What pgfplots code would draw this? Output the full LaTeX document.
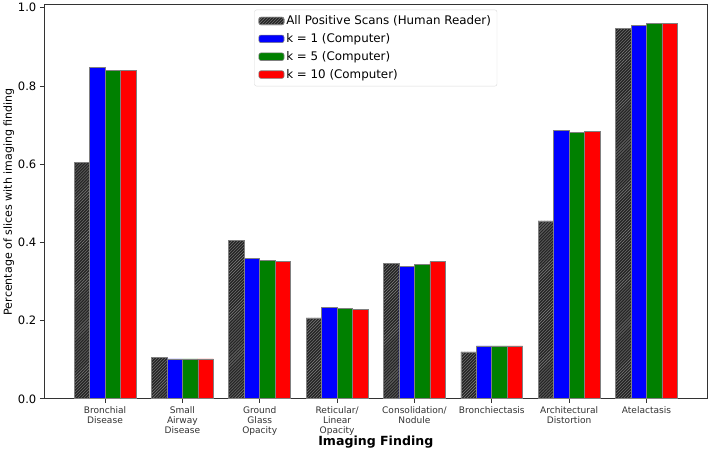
\documentclass[border=0pt]{standalone}
\usepackage{pgfplots}
\pgfplotsset{compat=1.18}
\usepackage{fontspec}
\setmainfont{DejaVu Sans}
\usetikzlibrary{patterns}
\definecolor{mplgreen}{RGB}{0,128,0}
\begin{document}
\begin{tikzpicture}[x=1pt,y=1pt]
\begin{axis}[
  scale only axis,
  width=660pt, height=392pt,
  xmin=-0.79, xmax=7.79,
  ymin=0, ymax=1.008,
  ybar,
  bar width=0.2,
  xtick={0,1,2,3,4,5,6,7},
  xticklabels={{Bronchial\\Disease},{Small\\Airway\\Disease},{Ground\\Glass\\Opacity},{Reticular/\\Linear\\Opacity},{Consolidation/\\Nodule},{Bronchiectasis},{Architectural\\Distortion},{Atelactasis}},
  xticklabel style={align=center, font=\fontsize{9}{10}\selectfont, color=black!80},
  ytick={0,0.2,0.4,0.6,0.8,1.0},
  yticklabel style={font=\fontsize{11.5}{12}\selectfont, /pgf/number format/fixed, /pgf/number format/precision=1, /pgf/number format/fixed zerofill},
  /pgf/number format/assume math mode=true,
  tick align=outside,
  major tick length=4pt,
  xtick pos=bottom, ytick pos=left,
  axis line style={black!80, line width=0.8pt},
  tick style={black!80, line width=0.8pt},
  xlabel={\textbf{Imaging Finding}},
  xlabel style={font=\fontsize{12.5}{12.5}\selectfont, yshift=6pt},
  ylabel={Percentage of slices with imaging finding},
  ylabel style={font=\fontsize{11}{11}\selectfont, yshift=-3pt},
  legend style={at={(0.5,0.987)}, anchor=north, draw=black!15, rounded corners=2pt,
    font=\fontsize{11.8}{13}\selectfont, row sep=3.3pt, inner xsep=4pt, inner ysep=4pt,
    /tikz/every even column/.append style={column sep=4pt}},
  legend cell align=left,
  legend image code/.code={\draw[#1] (0pt,-3.5pt) rectangle (25pt,4pt);},
  every axis plot/.append style={draw=gray, line width=0.6pt},
]
\addplot[fill=black!85, bar shift=-0.3, postaction={pattern=north east lines, pattern color=black!50}] coordinates {
(0,0.605) (1,0.105) (2,0.405) (3,0.207) (4,0.347) (5,0.120) (6,0.455) (7,0.947)};
\addlegendentry{All Positive Scans (Human Reader)}
\addplot[fill=blue, bar shift=-0.1] coordinates {
(0,0.848) (1,0.102) (2,0.360) (3,0.233) (4,0.339) (5,0.135) (6,0.686) (7,0.954)};
\addlegendentry{k = 1 (Computer)}
\addplot[fill=mplgreen, bar shift=0.1] coordinates {
(0,0.840) (1,0.102) (2,0.354) (3,0.231) (4,0.344) (5,0.135) (6,0.681) (7,0.960)};
\addlegendentry{k = 5 (Computer)}
\addplot[fill=red, bar shift=0.3] coordinates {
(0,0.840) (1,0.102) (2,0.351) (3,0.229) (4,0.351) (5,0.135) (6,0.684) (7,0.960)};
\addlegendentry{k = 10 (Computer)}
\end{axis}
\end{tikzpicture}
\end{document}
